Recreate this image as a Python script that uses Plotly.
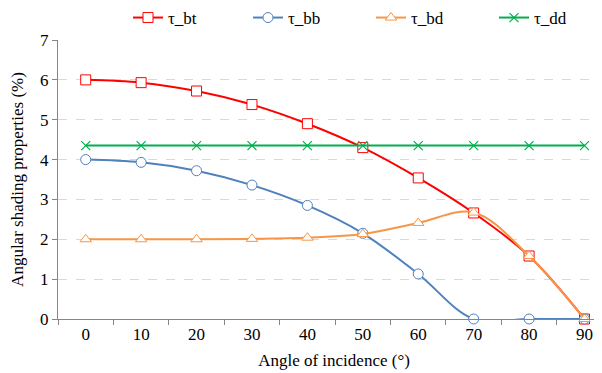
import plotly.graph_objects as go

angles = [0, 10, 20, 30, 40, 50, 60, 70, 80, 90]
tau_bt = [6.0, 5.93, 5.72, 5.38, 4.9, 4.3, 3.54, 2.66, 1.58, 0.0]
tau_bb = [4.0, 3.93, 3.72, 3.36, 2.85, 2.15, 1.13, 0.0, 0.0, 0.0]
tau_bd = [2.0, 2.0, 2.0, 2.01, 2.04, 2.13, 2.41, 2.67, 1.58, 0.0]
tau_dd = [4.35] * 10

font_family = "Liberation Serif"
W, H = 602, 373
OFF = 8  # page body margin

fig = go.Figure()

def add(name, y, color, symbol, legend):
    fig.add_trace(go.Scatter(
        x=angles, y=y, name=name, mode="lines+markers", legend=legend,
        line=dict(color=color, width=2, shape="spline", smoothing=1),
        marker=dict(symbol=symbol, size=10, color="white", line=dict(color=color, width=1)),
        cliponaxis=False,
    ))

add("τ_bt", tau_bt, "#FF0000", "square", "legend")
add("τ_bb", tau_bb, "#4F81BD", "circle", "legend2")
add("τ_bd", tau_bd, "#F79646", "triangle-up", "legend3")
fig.add_trace(go.Scatter(
    x=angles, y=tau_dd, name="τ_dd", mode="lines+markers", legend="legend4",
    line=dict(color="#00B050", width=2),
    marker=dict(symbol="x-thin", size=9, line=dict(color="#00B050", width=1.2)),
    cliponaxis=False,
))

def leg(px):
    return dict(xref="container", yref="container", x=(px - OFF) / W, xanchor="left",
                y=1 - (18 - OFF) / H, yanchor="middle", orientation="h",
                font=dict(size=17, family=font_family), bgcolor="rgba(0,0,0,0)",
                borderwidth=0)

fig.update_layout(
    width=W, height=H,
    margin=dict(l=58 - OFF, r=0, t=40 - OFF, b=54 + OFF),
    paper_bgcolor="white", plot_bgcolor="white",
    font=dict(family=font_family, size=17, color="#000000"),
    showlegend=True,
    legend=leg(128), legend2=leg(248), legend3=leg(371), legend4=leg(494),
    xaxis=dict(
        range=[-5, 94.6], tickvals=angles, ticktext=[str(a) for a in angles],
        ticks="", showgrid=False, zeroline=False, automargin=False,
        showline=True, linecolor="#868686", linewidth=1,
        minor=dict(ticks="outside", tick0=-5, dtick=10, ticklen=5, tickcolor="#868686", showgrid=False),
        title=dict(text="Angle of incidence (°)", standoff=10, font=dict(size=17)),
        tickfont=dict(size=17),
    ),
    yaxis=dict(
        range=[0, 7], dtick=1, ticks="outside", ticklen=5, tickcolor="#868686",
        showgrid=True, gridcolor="#D9D9D9", griddash="dash", gridwidth=1,
        zeroline=False, showline=True, linecolor="#868686", linewidth=1, automargin=False,
        title=dict(text="Angular shading properties (%)", standoff=14, font=dict(size=17)),
        tickfont=dict(size=17),
    ),
)

fig.write_html("out.html")
